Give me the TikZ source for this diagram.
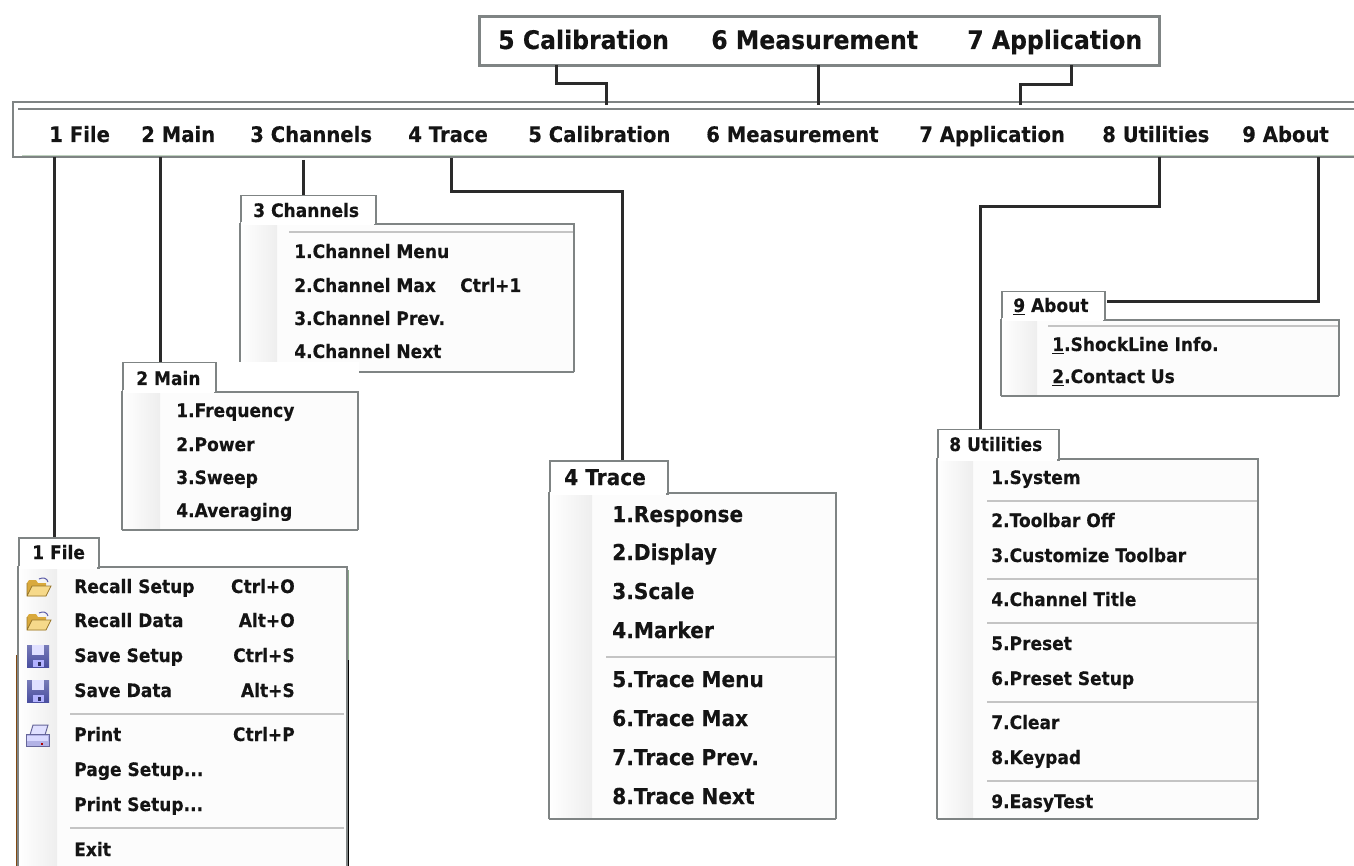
\documentclass[tikz,border=0pt]{standalone}
\usepackage{fontspec}
\setmainfont{DejaVu Sans}[FakeStretch=0.92,BoldFeatures={FakeBold=0.25}]
\newlength{\px}\setlength{\px}{0.75pt}
\definecolor{edge}{HTML}{7F8484}
\definecolor{sepc}{HTML}{C4C4C4}
\definecolor{gutc}{HTML}{EEEEEE}
\definecolor{ink}{HTML}{141414}
\definecolor{conc}{HTML}{2A2A2A}
\definecolor{floppy}{HTML}{4A4FA0}
\definecolor{folder}{HTML}{D9A93C}
\definecolor{folderl}{HTML}{F6D98A}
\tikzset{
  mitem/.style={anchor=base west,inner sep=0pt,text=ink,font=\bfseries\fontsize{13.9}{15}\selectfont},
  bitem/.style={mitem,font=\bfseries\fontsize{16}{18}\selectfont},
  tritem/.style={mitem,font=\bfseries\fontsize{16.4}{18}\selectfont},
  titem/.style={mitem,font=\bfseries\fontsize{19.2}{21}\selectfont},
  ritem/.style={mitem,anchor=base east},
  tabbox/.style={draw=edge,line width=1.5\px,fill=white,anchor=north west,inner sep=0pt},
  sepline/.style={draw=sepc,line width=1.7\px},
  conn/.style={draw=conc,line width=3\px},
  framebox/.style={draw=edge,line width=2.6\px,fill=white,anchor=north west,inner sep=0pt},
}
% x0 tabx1 ytop ytab bodyx1 ybot gutx1 name
\newcommand{\menubody}[8]{%
  \fill[white!99!black] (#1,#4) rectangle (#5,#6);
  \shade[left color=white,right color=gutc] (#1,#4) rectangle (#7,#6);
  \draw[edge,line width=1.5\px] (#1,#6) -- (#1,#4) -- (#5,#4) -- (#5,#6);
  \draw[edge,line width=1.5\px] (#1,#6) -- (#5,#6);
  \node[tabbox,minimum width={(#2-#1)*\px},minimum height={(#4-#3)*\px}] (#8) at (#1,#3) {};
  \fill[white] (#1+1,#4-1.5) rectangle (#2-1,#4+1.5);
}
\begin{document}
\begin{tikzpicture}[x=0.75pt,y=-0.75pt]
\useasboundingbox (0,0) rectangle (1354,866);
\fill[white] (0,0) rectangle (1354,866);

% top box
\node[framebox,minimum width={680*\px},minimum height={49.5*\px}] (topbox) at (478,15) {};
\node[titem] (t5) at (498,49) {5 Calibration};
\node[titem] (t6) at (711,49) {6 Measurement};
\node[titem] (t7) at (967,49) {7 Application};

% menu bar
\fill[white] (13,102) rectangle (1354,157);
\draw[edge,line width=2.6\px] (1354,102) -- (13,102) -- (13,157) -- (1354,157);
\coordinate (barleft) at (18,109);
\coordinate (barright) at (1354,109);
\draw[edge,line width=1.8\px] (barleft) -- (barright);
\coordinate (barlow) at (22,155.5);
\coordinate (barlowr) at (1354,155.5);
\draw[black!25!green!25!gray!40,line width=1\px] (barlow) -- (barlowr);
\node[bitem] (b1) at (49,142) {1 File};
\node[bitem] (b2) at (141,142) {2 Main};
\node[bitem] (b3) at (250,142) {3 Channels};
\node[bitem] (b4) at (408,142) {4 Trace};
\node[bitem] (b5) at (528,142) {5 Calibration};
\node[bitem] (b6) at (706,142) {6 Measurement};
\node[bitem] (b7) at (919,142) {7 Application};
\node[bitem] (b8) at (1102,142) {8 Utilities};
\node[bitem] (b9) at (1242,142) {9 About};

% channels (below main)
\menubody{240}{375}{195}{224}{574}{372}{277}{tabch}
\draw[sepline] (289,232) -- (573,232);
\node[mitem] (lch) at (253,217) {3 Channels};
\foreach \y/\t [count=\i] in {258/1.Channel Menu,292/2.Channel Max,325/3.Channel Prev.,358/4.Channel Next}
  \node[mitem] (ch\i) at (294,\y) {\t};
\node[mitem] (chk) at (460,292) {Ctrl+1};

% main
\fill[white] (215,362) rectangle (359,391);
\menubody{122}{215}{362}{392}{358}{530}{160}{tabmn}
\node[mitem] (lmn) at (136,385) {2 Main};
\foreach \y/\t [count=\i] in {417/1.Frequency,451/2.Power,484/3.Sweep,517/4.Averaging}
  \node[mitem] (mn\i) at (176,\y) {\t};

% file
\draw[black!60!orange!70!brown,line width=2\px] (17,655) -- (17,866);
\draw[black,line width=2.4\px] (348,660) -- (348,866);
\draw[black!45!green!30!gray!70,line width=2\px] (348,570) -- (348,660);
\menubody{18}{98}{537}{567}{347}{867}{57}{tabfl}
\node[mitem] (lfl) at (32,559) {1 File};
\draw[sepline] (70,714) -- (344,714);
\draw[sepline] (70,828) -- (344,828);
\node[mitem] (fl1) at (74,593) {Recall Setup};
\node[mitem] (fl2) at (74,627) {Recall Data};
\node[mitem] (fl3) at (74,662) {Save Setup};
\node[mitem] (fl4) at (74,697) {Save Data};
\node[mitem] (fl5) at (74,741) {Print};
\node[mitem] (fl6) at (74,776) {Page Setup...};
\node[mitem] (fl7) at (74,811) {Print Setup...};
\node[mitem] (fl8) at (74,856) {Exit};
\node[ritem] (fk1) at (295,593) {Ctrl+O};
\node[ritem] (fk2) at (295,627) {Alt+O};
\node[ritem] (fk3) at (295,662) {Ctrl+S};
\node[ritem] (fk4) at (295,697) {Alt+S};
\node[ritem] (fk5) at (295,741) {Ctrl+P};

% icons: folders
\foreach \y in {586,620}{
  \fill[folder] (27,\y-3) -- (27,\y+10) -- (46,\y+10) -- (46,\y-3) -- (38,\y-3) -- (36,\y-6) -- (29,\y-6) -- cycle;
  \fill[folderl] (27,\y+10) -- (32,\y) -- (51,\y) -- (46,\y+10) -- cycle;
  \draw[folder!70!black,line width=.8\px] (27,\y-3) -- (27,\y+10) -- (46,\y+10) -- (51,\y) -- (32,\y) -- (27,\y+10);
  \draw[gray!70!blue,line width=1\px] (39,\y-7) .. controls (43,\y-9) and (47,\y-8) .. (48,\y-4);
}
% icons: floppies
\foreach \y in {656,691}{
  \shade[top color=floppy!75!white,bottom color=floppy] (27,\y-11) rectangle (49,\y+11);
  \fill[white!88!blue] (32,\y-11) rectangle (44,\y-1);
  \fill[white!70!blue] (33,\y+4) rectangle (44,\y+11);
  \fill[floppy!60!black] (38,\y+6) rectangle (41,\y+10);
}
% icon: printer
\fill[white!88!blue] (33,725) -- (48,725) -- (45,735) -- (30,735) -- cycle;
\draw[gray!80!blue,line width=1\px] (33,725) -- (48,725) -- (45,735) -- (30,735) -- cycle;
\fill[gray!50!blue!40!white] (26,734) -- (49,734) -- (49,746) -- (26,746) -- cycle;
\fill[white!85!blue] (27,736) rectangle (48,741);
\draw[gray!80!blue,line width=1\px] (26,734) rectangle (49,746);
\fill[red!70!black] (41,743) rectangle (43,745);

% trace
\menubody{549}{667}{460}{493}{836}{819}{592}{tabtr}
\node[tritem] (ltr) at (564,485) {4 Trace};
\draw[sepline] (606,657) -- (835,657);
\foreach \y/\t [count=\i] in {522/1.Response,560/2.Display,599/3.Scale,638/4.Marker,687/5.Trace Menu,726/6.Trace Max,765/7.Trace Prev.,804/8.Trace Next}
  \node[tritem] (tr\i) at (612,\y) {\t};

% utilities
\menubody{937}{1058}{429}{459}{1258}{819}{973}{tabut}
\node[mitem] (lut) at (949,451) {8 Utilities};
\foreach \y in {501,579,623,702,781}
  \draw[sepline] (987,\y) -- (1257,\y);
\foreach \y/\t [count=\i] in {484/1.System,527/2.Toolbar Off,562/3.Customize Toolbar,606/4.Channel Title,650/5.Preset,685/6.Preset Setup,729/7.Clear,764/8.Keypad,808/9.EasyTest}
  \node[mitem] (ut\i) at (991,\y) {\t};

% about
\menubody{1001}{1104}{291}{320}{1339}{396}{1037}{tabab}
\node[mitem] (lab) at (1013,312) {\underline{9} About};
\draw[sepline] (1048,326) -- (1338,326);
\node[mitem] (ab1) at (1052,351) {\underline{1}.ShockLine Info.};
\node[mitem] (ab2) at (1052,383) {\underline{2}.Contact Us};

% connectors
\coordinate (c5a) at (556,65);
\coordinate (c5b) at (606,105);
\draw[conn] (c5a) -- (556,84) -| (c5b);
\coordinate (c6a) at (818,65);
\coordinate (c6b) at (818,105);
\draw[conn] (c6a) -- (c6b);
\coordinate (c7a) at (1071,65);
\coordinate (c7b) at (1020,105);
\draw[conn] (c7a) -- (1071,85) -| (c7b);
\coordinate (cf) at (54,157);
\draw[conn] (cf) -- (cf |- tabfl.north);
\coordinate (cm) at (160,157);
\draw[conn] (cm) -- (cm |- tabmn.north);
\coordinate (cc) at (303,160);
\draw[conn] (cc) -- (cc |- tabch.north);
\coordinate (ct) at (451,158);
\coordinate (ct2) at (622,192);
\draw[conn] (ct) |- (ct2) -- (ct2 |- tabtr.north);
\coordinate (cu) at (1159,157);
\coordinate (cu2) at (980,207);
\draw[conn] (cu) |- (cu2) -- (cu2 |- tabut.north);
\coordinate (ca) at (1318,157);
\coordinate (ca2) at (1107,302);
\draw[conn] (ca) |- (ca2);
\end{tikzpicture}
\end{document}
